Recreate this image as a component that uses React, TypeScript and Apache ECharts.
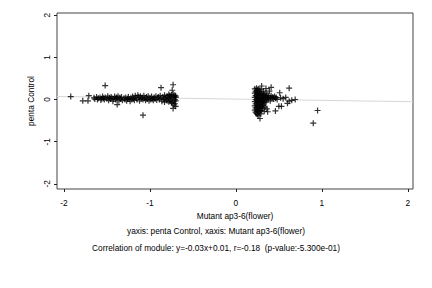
import React, { useEffect, useRef } from "react";
import * as echarts from "echarts";

const xTicks = [-2, -1, 0, 1, 2];
const yTicks = [-2, -1, 0, 1, 2];
const xLabel = "Mutant ap3-6(flower)";
const yLabel = "penta Control";
const subtitle1 = "yaxis: penta Control, xaxis: Mutant ap3-6(flower)";
const subtitle2 = "Correlation of module: y=-0.03x+0.01, r=-0.18  (p-value:-5.300e-01)";
const fitSlope = -0.03;
const fitIntercept = 0.01;
const xRange = [-2.08, 2.06];
const yRange = [-2.12, 2.05];

const leftCluster: number[][] = [
  [-1.92, 0.07], [-1.78, -0.03], [-1.72, -0.03], [-1.71, 0.09], [-1.65, 0.04], [-1.64, 0.01],
  [-1.62, 0.06], [-1.61, 0.0], [-1.6, 0.03], [-1.58, 0.05], [-1.57, -0.01], [-1.56, 0.02],
  [-1.55, 0.07], [-1.54, 0.03], [-1.53, 0.0], [-1.52, 0.33], [-1.52, 0.05], [-1.5, 0.02],
  [-1.49, 0.08], [-1.48, -0.02], [-1.47, 0.04], [-1.46, 0.01], [-1.45, 0.06], [-1.44, 0.03],
  [-1.43, -0.04], [-1.42, 0.02], [-1.41, 0.07], [-1.4, 0.0], [-1.39, 0.05], [-1.38, -0.12],
  [-1.38, 0.03], [-1.37, 0.08], [-1.36, -0.03], [-1.35, 0.04], [-1.34, 0.01], [-1.33, 0.06],
  [-1.32, -0.02], [-1.3, 0.03], [-1.29, 0.0], [-1.28, 0.05], [-1.27, -0.03], [-1.26, 0.02],
  [-1.25, 0.06], [-1.24, 0.01], [-1.23, -0.04], [-1.22, 0.04], [-1.21, 0.0], [-1.2, 0.07],
  [-1.19, 0.02], [-1.18, -0.02], [-1.17, 0.09], [-1.16, 0.04], [-1.15, 0.0], [-1.14, 0.1],
  [-1.13, 0.06], [-1.12, -0.03], [-1.11, 0.08], [-1.1, 0.02], [-1.09, 0.05], [-1.08, -0.37],
  [-1.08, 0.0], [-1.07, 0.09], [-1.06, 0.03], [-1.05, -0.02], [-1.04, 0.06], [-1.03, 0.01],
  [-1.02, 0.08], [-1.01, -0.03], [-1.0, 0.04], [-0.99, 0.0], [-0.98, 0.07], [-0.97, 0.02],
  [-0.96, -0.02], [-0.95, 0.05], [-0.94, 0.01], [-0.93, 0.08], [-0.92, -0.01], [-0.91, 0.04],
  [-0.9, 0.06], [-0.89, 0.0], [-0.88, 0.09], [-0.87, 0.28], [-0.87, 0.03], [-0.86, -0.04],
  [-0.85, 0.06], [-0.84, 0.01], [-0.83, 0.1], [-0.83, -0.06], [-0.82, 0.04], [-0.81, 0.0],
  [-0.8, 0.08], [-0.8, -0.03], [-0.79, 0.05], [-0.78, 0.12], [-0.78, -0.05], [-0.77, 0.02],
  [-0.77, 0.09], [-0.76, -0.02], [-0.76, 0.06], [-0.75, 0.11], [-0.75, -0.07], [-0.74, 0.22],
  [-0.73, 0.35], [-0.74, 0.03], [-0.74, -0.09], [-0.73, 0.13], [-0.73, -0.21], [-0.72, -0.13],
  [-0.72, 0.07], [-0.72, -0.04], [-0.71, 0.1], [-0.71, 0.0], [-0.71, -0.1], [-0.7, 0.05],
  [-0.7, -0.03], [-0.7, 0.08], [-0.7, -0.16],
];

const rightCluster: number[][] = [
  [0.22, 0.25], [0.22, 0.15], [0.22, 0.05], [0.22, -0.05], [0.22, -0.15], [0.22, -0.25],
  [0.23, 0.2], [0.23, 0.1], [0.23, 0.0], [0.23, -0.1], [0.23, -0.2], [0.23, -0.3],
  [0.24, 0.27], [0.24, 0.17], [0.24, 0.07], [0.24, -0.03], [0.24, -0.13], [0.24, -0.23],
  [0.24, -0.33], [0.25, 0.22], [0.25, 0.12], [0.25, 0.02], [0.25, -0.08], [0.25, -0.18],
  [0.25, -0.28], [0.25, -0.35], [0.26, 0.25], [0.26, 0.15], [0.26, 0.05], [0.26, -0.05],
  [0.26, -0.15], [0.26, -0.25], [0.26, -0.38], [0.27, 0.19], [0.27, 0.09], [0.27, -0.01],
  [0.27, -0.11], [0.27, -0.21], [0.27, -0.31], [0.28, 0.24], [0.28, 0.13], [0.28, 0.03],
  [0.28, -0.07], [0.28, -0.17], [0.28, -0.27], [0.28, -0.45], [0.29, 0.18], [0.29, 0.08],
  [0.29, -0.02], [0.29, -0.12], [0.29, -0.22], [0.29, -0.34], [0.3, 0.32], [0.3, 0.14],
  [0.3, 0.04], [0.3, -0.06], [0.3, -0.16], [0.3, -0.26], [0.31, 0.1], [0.31, 0.0],
  [0.31, -0.1], [0.31, -0.2], [0.32, 0.2], [0.32, 0.06], [0.32, -0.04], [0.32, -0.14],
  [0.33, 0.12], [0.33, 0.02], [0.33, -0.08], [0.33, -0.28], [0.34, 0.08], [0.34, -0.02],
  [0.34, -0.18], [0.35, 0.26], [0.35, 0.15], [0.35, 0.04], [0.35, -0.06], [0.36, 0.1],
  [0.36, 0.0], [0.36, -0.22], [0.37, 0.05], [0.37, -0.29], [0.38, 0.08], [0.38, 0.02],
  [0.39, 0.2], [0.4, 0.05], [0.4, -0.03], [0.41, 0.29], [0.41, 0.09], [0.42, 0.03],
  [0.43, 0.06], [0.44, 0.01], [0.45, 0.07], [0.46, -0.27], [0.46, 0.03], [0.47, 0.05],
  [0.48, 0.0], [0.5, -0.16], [0.51, 0.16], [0.52, 0.04], [0.53, -0.16], [0.55, 0.02],
  [0.58, 0.05], [0.6, -0.09], [0.62, 0.27], [0.62, -0.04], [0.65, -0.02], [0.69, 0.0],
  [0.9, -0.56], [0.95, -0.26],
];

const plusSymbol = "path://M4,0H6V4H10V6H6V10H4V6H0V4H4Z";
const FONT = "Liberation Sans, Arial, sans-serif";
const FS = 8.3;

export default function App() {
  const ref = useRef<HTMLDivElement>(null);
  useEffect(() => {
    if (!ref.current) return;
    const chart = echarts.init(ref.current, null, { renderer: "svg" });
    const fitData = [
      [xRange[0], fitSlope * xRange[0] + fitIntercept],
      [xRange[1], fitSlope * xRange[1] + fitIntercept],
    ];
    chart.setOption({
      animation: false,
      backgroundColor: "#ffffff",
      grid: {
        left: 57,
        right: 19,
        top: 13,
        bottom: 99,
        show: true,
        borderColor: "#444",
        borderWidth: 1,
        backgroundColor: "transparent",
      },
      xAxis: {
        type: "value",
        min: xRange[0],
        max: xRange[1],
        name: xLabel,
        nameLocation: "middle",
        nameGap: 22,
        nameTextStyle: { fontFamily: FONT, fontSize: FS, color: "#000" },
        axisLine: { show: false, onZero: false },
        splitLine: { show: false },
        axisTick: { show: true, length: 3, customValues: xTicks, lineStyle: { color: "#222" } },
        axisLabel: {
          customValues: xTicks,
          fontFamily: FONT,
          fontSize: FS,
          color: "#000",
          margin: 10,
        },
      },
      yAxis: {
        type: "value",
        min: yRange[0],
        max: yRange[1],
        name: yLabel,
        nameLocation: "middle",
        nameGap: 20,
        nameRotate: 90,
        nameTextStyle: { fontFamily: FONT, fontSize: FS, color: "#000" },
        axisLine: { show: false, onZero: false },
        splitLine: { show: false },
        axisTick: { show: true, length: 3, customValues: yTicks, lineStyle: { color: "#222" } },
        axisLabel: {
          customValues: yTicks,
          fontFamily: FONT,
          fontSize: FS,
          color: "#000",
          rotate: 90,
          margin: 6,
        },
      },
      graphic: [
        {
          type: "text",
          left: "center",
          top: 227,
          style: { text: subtitle1, fontFamily: FONT, fontSize: FS, fill: "#000" },
        },
        {
          type: "text",
          left: "center",
          top: 244,
          style: { text: subtitle2, fontFamily: FONT, fontSize: FS, fill: "#000" },
        },
      ],
      series: [
        {
          type: "line",
          data: fitData,
          showSymbol: false,
          symbol: "none",
          lineStyle: { color: "#d8d8d8", width: 1 },
          silent: true,
          z: 1,
        },
        {
          type: "scatter",
          data: leftCluster,
          symbol: plusSymbol,
          symbolSize: 6,
          itemStyle: { color: "#000" },
          z: 2,
        },
        {
          type: "scatter",
          data: rightCluster,
          symbol: plusSymbol,
          symbolSize: 6,
          itemStyle: { color: "#000" },
          z: 2,
        },
      ],
    });
    return () => chart.dispose();
  }, []);
  return <div ref={ref} style={{ width: 432, height: 288, margin: -8 }} />;
}
